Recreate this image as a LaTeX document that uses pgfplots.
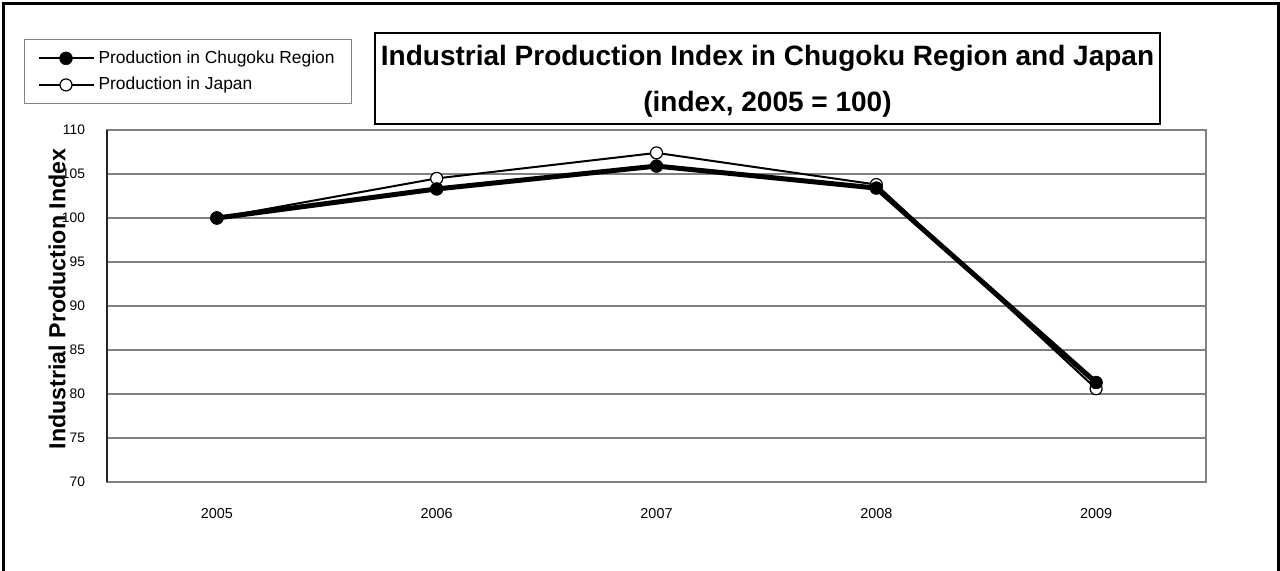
\documentclass[border=0pt]{standalone}
\usepackage{fontspec}
\setmainfont{Liberation Sans}
\usepackage{pgfplots}
\pgfplotsset{compat=1.18}

\begin{document}
\begin{tikzpicture}
\begin{axis}[
    at={(0pt,0pt)}, anchor=south west,
    scale only axis,
    width=549.5pt, height=176pt,
    xmin=-0.5, xmax=4.5,
    ymin=70, ymax=110,
    xtick={0,...,4},
    xticklabels={2005,2006,2007,2008,2009},
    ytick={70,75,...,110},
    major tick length=0pt,
    ymajorgrids,
    grid style={gray, line width=0.6pt},
    axis line style={gray, line width=0.9pt},
    /pgf/number format/assume math mode=true,
    yticklabel style={font=\fontsize{6.9}{8}\selectfont, xshift=-7.5pt},
    xticklabel style={font=\fontsize{7.2}{8}\selectfont, yshift=-9.5pt},
    ylabel={Industrial Production Index},
    ylabel style={font=\bfseries\fontsize{11.6}{13}\selectfont,
        at={(axis description cs:-0.0455,0.52)}, anchor=center},
    legend style={at={(axis description cs:-0.0755,1.2585)}, anchor=north west,
        draw=gray, line width=0.5pt,
        font=\fontsize{8.7}{10}\selectfont,
        inner xsep=6.5pt, inner ysep=3.5pt, row sep=1.5pt},
    legend cell align=left,
    reverse legend,
    clip=false,
]
% Japan (drawn first, below)
\addplot[black, line width=1pt, mark=*, mark size=3pt,
    mark options={fill=white, line width=0.6pt},
    legend image code/.code={\draw[line width=1pt, mark repeat=2, mark phase=2]
        plot coordinates {(0pt,0pt) (13.75pt,0pt) (27.5pt,0pt)};}]
    coordinates {(0,100) (1,104.5) (2,107.4) (3,103.8) (4,80.6)};
% Chugoku
\addplot[black, line width=2.5pt, line join=round, mark=*, mark size=3.2pt,
    mark options={line width=0.3pt},
    legend image code/.code={\draw[line width=1pt, mark repeat=2, mark phase=2]
        plot coordinates {(0pt,0pt) (13.75pt,0pt) (27.5pt,0pt)};}]
    coordinates {(0,100) (1,103.3) (2,105.9) (3,103.4) (4,81.3)};
\legend{Production in Japan, Production in Chugoku Region}
\end{axis}
% vertical axis line
\draw[line width=0.9pt, black!85] (0pt,0pt) -- (0pt,176pt);
% title box
\draw[line width=1pt] (134pt,179pt) rectangle (526.5pt,224.5pt);
\node[align=center, font=\bfseries\fontsize{14}{23}\selectfont]
    at (330.25pt,200.5pt) {Industrial Production Index in Chugoku Region and Japan\\(index, 2005 = 100)};
% outer chart frame
\draw[line width=1.5pt] (-51.5pt,-50pt) -- (-51.5pt,239pt) -- (585.5pt,239pt) -- (585.5pt,-50pt);
\pgfresetboundingbox
\useasboundingbox (-53.5pt,-44.5pt) rectangle (586.5pt,241pt);
\end{tikzpicture}
\end{document}
